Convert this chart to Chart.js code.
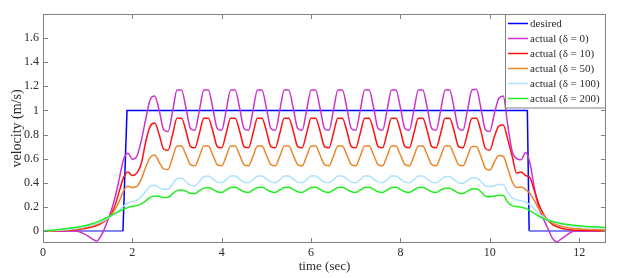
<!DOCTYPE html>
<html>
<head>
<meta charset="utf-8">
<script src="https://cdn.jsdelivr.net/npm/chart.js@4.4.0/dist/chart.umd.min.js"></script>
<style>
  html, body { margin: 0; padding: 0; background: #fff; }
  canvas { display: block; }
</style>
</head>
<body>
<canvas id="chart" width="628" height="278"></canvas>
<script>
// time axis (sec), sampled every 0.1 s
const times = [
  0.0, 0.1, 0.2, 0.3, 0.4, 0.5, 0.6, 0.7, 0.8, 0.9,
  1.0, 1.1, 1.2, 1.3, 1.4, 1.5, 1.6, 1.7, 1.8, 1.9,
  2.0, 2.1, 2.2, 2.3, 2.4, 2.5, 2.6, 2.7, 2.8, 2.9,
  3.0, 3.1, 3.2, 3.3, 3.4, 3.5, 3.6, 3.7, 3.8, 3.9,
  4.0, 4.1, 4.2, 4.3, 4.4, 4.5, 4.6, 4.7, 4.8, 4.9,
  5.0, 5.1, 5.2, 5.3, 5.4, 5.5, 5.6, 5.7, 5.8, 5.9,
  6.0, 6.1, 6.2, 6.3, 6.4, 6.5, 6.6, 6.7, 6.8, 6.9,
  7.0, 7.1, 7.2, 7.3, 7.4, 7.5, 7.6, 7.7, 7.8, 7.9,
  8.0, 8.1, 8.2, 8.3, 8.4, 8.5, 8.6, 8.7, 8.8, 8.9,
  9.0, 9.1, 9.2, 9.3, 9.4, 9.5, 9.6, 9.7, 9.8, 9.9,
  10.0, 10.1, 10.2, 10.3, 10.4, 10.5, 10.6, 10.7, 10.8, 10.9,
  11.0, 11.1, 11.2, 11.3, 11.4, 11.5, 11.6, 11.7, 11.8, 11.9,
  12.0, 12.1, 12.2, 12.3, 12.4, 12.5, 12.6
];

// desired velocity (step profile)
const desiredTimes = [0, 1.79, 1.88, 10.84, 10.88, 12.6];
const desired = [0, 0, 1, 1, 0, 0];

// actual (delta = 0)
const actual0 = [
  0, 0, 0, 0, 0, 0, 0, 0, -0.005, -0.02,
  -0.04, -0.065, -0.085, -0.04, 0.04, 0.14, 0.26, 0.42, 0.59, 0.645,
  0.595, 0.62, 0.75, 0.93, 1.09, 1.12, 1.0, 0.84, 0.825, 0.99,
  1.17, 1.17, 1.02, 0.85, 0.835, 1.0, 1.17, 1.17, 1.02, 0.85,
  0.835, 1.0, 1.17, 1.17, 1.02, 0.85, 0.835, 1.0, 1.17, 1.17,
  1.02, 0.85, 0.835, 1.0, 1.17, 1.17, 1.02, 0.85, 0.835, 1.0,
  1.17, 1.17, 1.02, 0.85, 0.835, 1.0, 1.17, 1.17, 1.02, 0.85,
  0.835, 1.0, 1.17, 1.17, 1.02, 0.85, 0.835, 1.0, 1.17, 1.17,
  1.02, 0.85, 0.835, 1.0, 1.17, 1.17, 1.02, 0.85, 0.835, 1.0,
  1.17, 1.17, 1.02, 0.85, 0.835, 1.0, 1.17, 1.175, 1.02, 0.84,
  0.825, 0.97, 1.10, 1.12, 0.88, 0.66, 0.6, 0.59, 0.65, 0.56,
  0.35, 0.19, 0.1, 0.02, -0.06, -0.09, -0.065, -0.04, -0.015, 0,
  0, 0, 0, 0, 0, 0, 0
];

// actual (delta = 10)
const actual10 = [
  0, 0, 0, 0.001, 0.002, 0.004, 0.006, 0.009, 0.013, 0.018,
  0.025, 0.033, 0.045, 0.062, 0.085, 0.12, 0.2, 0.32, 0.44, 0.49,
  0.46, 0.48, 0.56, 0.74, 0.87, 0.895, 0.8, 0.68, 0.67, 0.80,
  0.935, 0.935, 0.83, 0.70, 0.69, 0.81, 0.935, 0.935, 0.83, 0.70,
  0.69, 0.81, 0.935, 0.935, 0.83, 0.70, 0.69, 0.81, 0.935, 0.935,
  0.83, 0.70, 0.69, 0.81, 0.935, 0.935, 0.83, 0.70, 0.69, 0.81,
  0.935, 0.935, 0.83, 0.70, 0.69, 0.81, 0.935, 0.935, 0.83, 0.70,
  0.69, 0.81, 0.935, 0.935, 0.83, 0.70, 0.69, 0.81, 0.935, 0.935,
  0.83, 0.70, 0.69, 0.81, 0.935, 0.935, 0.83, 0.70, 0.69, 0.81,
  0.935, 0.935, 0.83, 0.70, 0.69, 0.81, 0.935, 0.935, 0.83, 0.685,
  0.67, 0.78, 0.87, 0.88, 0.76, 0.62, 0.48, 0.49, 0.46, 0.44,
  0.33, 0.22, 0.14, 0.09, 0.055, 0.035, 0.022, 0.014, 0.009, 0.006,
  0.005, 0.004, 0.003, 0.003, 0.002, 0.002, 0.002
];

// actual (delta = 50)
const actual50 = [
  0, 0.001, 0.002, 0.003, 0.005, 0.007, 0.01, 0.014, 0.019, 0.026,
  0.034, 0.043, 0.055, 0.07, 0.09, 0.12, 0.17, 0.24, 0.33, 0.37,
  0.36, 0.37, 0.43, 0.53, 0.61, 0.63, 0.57, 0.515, 0.51, 0.61,
  0.705, 0.705, 0.63, 0.55, 0.54, 0.62, 0.705, 0.705, 0.63, 0.55,
  0.54, 0.62, 0.705, 0.705, 0.63, 0.55, 0.54, 0.62, 0.705, 0.705,
  0.63, 0.55, 0.54, 0.62, 0.705, 0.705, 0.63, 0.55, 0.54, 0.62,
  0.705, 0.705, 0.63, 0.55, 0.54, 0.62, 0.705, 0.705, 0.63, 0.55,
  0.54, 0.62, 0.705, 0.705, 0.63, 0.55, 0.54, 0.62, 0.705, 0.705,
  0.63, 0.55, 0.54, 0.62, 0.705, 0.705, 0.63, 0.55, 0.54, 0.62,
  0.705, 0.705, 0.63, 0.55, 0.54, 0.62, 0.70, 0.70, 0.62, 0.52,
  0.505, 0.57, 0.625, 0.62, 0.52, 0.41, 0.36, 0.365, 0.345, 0.31,
  0.25, 0.18, 0.13, 0.095, 0.067, 0.05, 0.039, 0.031, 0.025, 0.021,
  0.018, 0.015, 0.013, 0.011, 0.01, 0.009, 0.008
];

// actual (delta = 100)
const actual100 = [
  0, 0.002, 0.004, 0.006, 0.008, 0.011, 0.015, 0.02, 0.026, 0.033,
  0.041, 0.05, 0.062, 0.077, 0.095, 0.115, 0.14, 0.17, 0.205, 0.232,
  0.245, 0.255, 0.285, 0.33, 0.37, 0.38, 0.36, 0.345, 0.345, 0.39,
  0.435, 0.437, 0.41, 0.378, 0.372, 0.41, 0.452, 0.455, 0.43, 0.405,
  0.40, 0.425, 0.455, 0.455, 0.43, 0.405, 0.40, 0.425, 0.455, 0.455,
  0.43, 0.405, 0.40, 0.425, 0.455, 0.455, 0.43, 0.405, 0.40, 0.425,
  0.455, 0.455, 0.43, 0.405, 0.40, 0.425, 0.455, 0.455, 0.43, 0.405,
  0.40, 0.425, 0.455, 0.455, 0.43, 0.405, 0.40, 0.425, 0.455, 0.455,
  0.43, 0.405, 0.40, 0.425, 0.455, 0.455, 0.43, 0.405, 0.40, 0.425,
  0.45, 0.452, 0.425, 0.40, 0.395, 0.42, 0.44, 0.442, 0.41, 0.375,
  0.368, 0.375, 0.385, 0.385, 0.32, 0.275, 0.258, 0.25, 0.24, 0.215,
  0.18, 0.145, 0.115, 0.095, 0.078, 0.066, 0.056, 0.049, 0.043, 0.039,
  0.035, 0.032, 0.03, 0.028, 0.026, 0.025, 0.024
];

// actual (delta = 200)
const actual200 = [
  0, 0.003, 0.006, 0.01, 0.014, 0.019, 0.024, 0.029, 0.035, 0.042,
  0.05, 0.06, 0.073, 0.088, 0.105, 0.124, 0.144, 0.163, 0.18, 0.195,
  0.205, 0.21, 0.225, 0.25, 0.278, 0.29, 0.287, 0.278, 0.28, 0.31,
  0.335, 0.34, 0.33, 0.312, 0.31, 0.335, 0.355, 0.36, 0.345, 0.325,
  0.32, 0.34, 0.36, 0.362, 0.345, 0.325, 0.32, 0.34, 0.36, 0.362,
  0.345, 0.325, 0.32, 0.34, 0.36, 0.362, 0.345, 0.325, 0.32, 0.34,
  0.36, 0.362, 0.345, 0.325, 0.32, 0.34, 0.36, 0.362, 0.345, 0.325,
  0.32, 0.34, 0.36, 0.362, 0.345, 0.325, 0.32, 0.34, 0.36, 0.362,
  0.345, 0.325, 0.32, 0.34, 0.36, 0.362, 0.345, 0.325, 0.32, 0.34,
  0.355, 0.355, 0.335, 0.315, 0.31, 0.33, 0.348, 0.35, 0.325, 0.29,
  0.283, 0.29, 0.297, 0.295, 0.24, 0.21, 0.202, 0.197, 0.187, 0.168,
  0.145, 0.122, 0.103, 0.089, 0.078, 0.069, 0.062, 0.056, 0.051, 0.047,
  0.043, 0.04, 0.037, 0.035, 0.033, 0.031, 0.03
];

const xTicks = [0, 2, 4, 6, 8, 10, 12];
const yTicks = [0, 0.2, 0.4, 0.6, 0.8, 1, 1.2, 1.4, 1.6];

const serif = '"Liberation Serif", "DejaVu Serif", serif';
const textColor = '#2b2b2b';
const axisColor = '#808080';

function pts(xs, ys){ return xs.map((t, i) => ({x: t, y: ys[i]})); }

function series(label, xs, ys, color, order){
  return {
    label, data: pts(xs, ys), borderColor: color, backgroundColor: color,
    borderWidth: 1.5, pointRadius: 0, fill: false, order,
    cubicInterpolationMode: 'monotone'
  };
}

const datasets = [
  {
    label: 'desired', data: pts(desiredTimes, desired),
    borderColor: '#0000ff', backgroundColor: '#0000ff', borderWidth: 1.5,
    pointRadius: 0, fill: false, tension: 0, order: 6,
    segment: {
      borderColor: c => (c.p0.parsed.y === 0 && c.p1.parsed.y === 0) ? '#8484ff' : undefined,
      borderWidth: c => (c.p0.parsed.y === 0 && c.p1.parsed.y === 0) ? 2 : undefined
    }
  },
  series('actual (\u03b4 = 0)', times, actual0, '#cc33cc', 5),
  series('actual (\u03b4 = 10)', times, actual10, '#ff1111', 4),
  series('actual (\u03b4 = 50)', times, actual50, '#e8872a', 3),
  series('actual (\u03b4 = 100)', times, actual100, '#aee2ff', 2),
  series('actual (\u03b4 = 200)', times, actual200, '#22ee22', 1)
];

// matlab style box, inward ticks and legend
const boxPlugin = {
  id: 'box',
  afterDraw(chart){
    const {ctx, chartArea: a, scales} = chart;
    ctx.save();
    ctx.strokeStyle = axisColor;
    ctx.lineWidth = 1;
    ctx.strokeRect(a.left + 0.5, a.top + 0.5, a.right - a.left - 1, a.bottom - a.top - 1);
    ctx.beginPath();
    for(const t of scales.x.ticks){
      const px = Math.round(scales.x.getPixelForValue(t.value)) + 0.5;
      ctx.moveTo(px, a.bottom); ctx.lineTo(px, a.bottom - 5);
      ctx.moveTo(px, a.top); ctx.lineTo(px, a.top + 5);
    }
    for(const t of scales.y.ticks){
      const py = Math.round(scales.y.getPixelForValue(t.value)) + 0.5;
      ctx.moveTo(a.left, py); ctx.lineTo(a.left + 5, py);
      ctx.moveTo(a.right, py); ctx.lineTo(a.right - 5, py);
    }
    ctx.stroke();

    // legend
    const lx = 505.5, ly = 14.5, lw = 100, lh = 93.5;
    ctx.fillStyle = '#fff';
    ctx.fillRect(lx, ly, lw, lh);
    ctx.strokeRect(lx, ly, lw, lh);
    ctx.font = '11px ' + serif;
    ctx.textBaseline = 'middle';
    chart.data.datasets.forEach((ds, i) => {
      const y = 23.5 + i * 15;
      ctx.strokeStyle = ds.borderColor;
      ctx.lineWidth = 1.5;
      ctx.beginPath(); ctx.moveTo(508, y); ctx.lineTo(528, y); ctx.stroke();
      ctx.fillStyle = textColor;
      ctx.fillText(ds.label, 530, y + 0.5);
    });
    ctx.restore();
  }
};

new Chart(document.getElementById('chart'), {
  type: 'line',
  data: { datasets },
  options: {
    responsive: false,
    animation: false,
    devicePixelRatio: 1,
    layout: { padding: { top: 14, right: 22, left: 0, bottom: 0 } },
    plugins: { legend: { display: false }, tooltip: { enabled: false } },
    scales: {
      x: {
        type: 'linear', min: 0, max: 12.6,
        grid: { display: false, drawTicks: false },
        border: { display: false },
        afterBuildTicks: s => { s.ticks = xTicks.map(v => ({value: v})); },
        afterFit: s => { s.height = 35; },
        ticks: { padding: 3, color: textColor, font: { family: serif, size: 12 }, maxRotation: 0,
                 callback: v => String(v) },
        title: { display: true, text: 'time (sec)', color: textColor, font: { family: serif, size: 13 }, padding: { top: 0, bottom: 4 } }
      },
      y: {
        type: 'linear', min: -0.1, max: 1.8,
        grid: { display: false, drawTicks: false },
        border: { display: false },
        afterBuildTicks: s => { s.ticks = yTicks.map(v => ({value: v})); },
        afterFit: s => { s.width = 43; },
        ticks: { padding: 4, color: textColor, font: { family: serif, size: 12 },
                 callback: v => String(Math.round(v * 10) / 10) },
        title: { display: true, text: 'velocity (m/s)', color: textColor, font: { family: serif, size: 14 }, padding: { top: 9, bottom: 0 } }
      }
    }
  },
  plugins: [boxPlugin]
});
</script>
</body>
</html>
